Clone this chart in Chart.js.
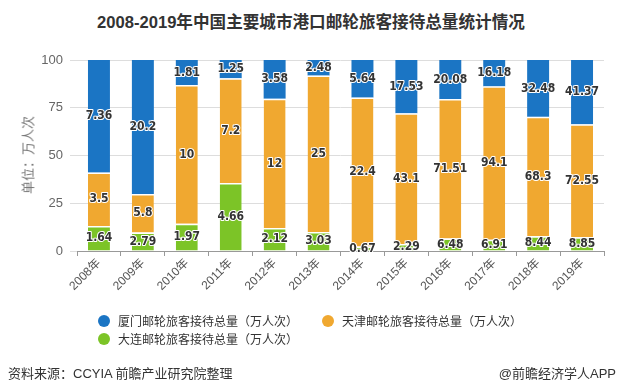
<!DOCTYPE html>
<html>
<head>
<meta charset="utf-8">
<script src="https://cdn.jsdelivr.net/npm/chart.js@4"></script>
<style>
    body { margin: 0; background: #fff; font-family: "Liberation Sans", "Noto Sans CJK SC", sans-serif; }
    #wrap { position: relative; width: 619px; height: 392px; overflow: hidden; }
    #chart { position: absolute; left: 0; top: 0; }
    .title { position: absolute; left: 97px; top: 9px; font-size: 16.6px; font-weight: bold; color: #333; white-space: nowrap; }
    .ytitle { position: absolute; left: 27px; top: 155px; font-size: 13px; color: #777; white-space: nowrap;
              transform: translate(-50%, -50%) rotate(-90deg); font-family: "Noto Sans CJK SC", sans-serif; }
    .legend-item { position: absolute; font-size: 12px; color: #333; white-space: nowrap; font-family: "Noto Sans CJK SC", sans-serif; }
    .legend-item span.dot { position: absolute; left: -20px; top: 3px; width: 12px; height: 12px; border-radius: 50%; }
    .source { position: absolute; font-size: 13px; color: #333; white-space: nowrap; }
</style>
</head>
<body>
<div id="wrap">
    <div class="title">2008-2019年中国主要城市港口邮轮旅客接待总量统计情况</div>
    <canvas id="chart" width="619" height="392"></canvas>
    <div class="ytitle">单位：万人次</div>
    <div class="legend-item" style="left:118px; top:312px;"><span class="dot" style="background:#1B75C4"></span>厦门邮轮旅客接待总量（万人次）</div>
    <div class="legend-item" style="left:342px; top:312px;"><span class="dot" style="background:#F0A830"></span>天津邮轮旅客接待总量（万人次）</div>
    <div class="legend-item" style="left:118px; top:330px;"><span class="dot" style="background:#7CC427"></span>大连邮轮旅客接待总量（万人次）</div>
    <div class="source" style="left:8px; top:363px;">资料来源：CCYIA 前瞻产业研究院整理</div>
    <div class="source" style="right:3px; top:363px;">@前瞻经济学人APP</div>
</div>
<script>
// 年份
const years = ['2008年', '2009年', '2010年', '2011年', '2012年', '2013年', '2014年', '2015年', '2016年', '2017年', '2018年', '2019年'];
// 各城市接待量（万人次）
const dalian = [1.64, 2.79, 1.97, 4.66, 2.12, 3.03, 0.67, 2.29, 6.48, 6.91, 8.44, 8.85];
const tianjin = [3.5, 5.8, 10, 7.2, 12, 25, 22.4, 43.1, 71.51, 94.1, 68.3, 72.55];
const xiamen = [7.36, 20.2, 1.81, 1.25, 3.58, 2.48, 5.64, 17.53, 20.08, 16.18, 32.48, 41.37];
const yTicks = [0, 25, 50, 75, 100];

const totals = years.map((y, i) => dalian[i] + tianjin[i] + xiamen[i]);
const toPct = arr => arr.map((v, i) => v / totals[i] * 100);

// draw raw values in the middle of each segment
const valueLabels = {
    id: 'valueLabels',
    afterDatasetsDraw(chart) {
        const ctx = chart.ctx;
        ctx.save();
        ctx.font = 'bold 12px "DejaVu Sans Condensed", "DejaVu Sans", sans-serif';
        ctx.textAlign = 'center';
        ctx.textBaseline = 'middle';
        ctx.lineJoin = 'round';
        chart.data.datasets.forEach((ds, di) => {
            const meta = chart.getDatasetMeta(di);
            meta.data.forEach((bar, i) => {
                const y = (bar.y + bar.base) / 2;
                const txt = String(ds.values[i]);
                ctx.lineWidth = 2;
                ctx.strokeStyle = '#fff';
                ctx.strokeText(txt, bar.x, y);
                ctx.fillStyle = '#333';
                ctx.fillText(txt, bar.x, y);
            });
        });
        ctx.restore();
    }
};

const ctx = document.getElementById('chart').getContext('2d');
const chart = new Chart(ctx, {
    type: 'bar',
    data: {
        labels: years,
        datasets: [
            { label: '大连', values: dalian, data: toPct(dalian), backgroundColor: '#7CC427', borderColor: '#fff', borderWidth: { top: 1.5 }, borderSkipped: false },
            { label: '天津', values: tianjin, data: toPct(tianjin), backgroundColor: '#F0A830', borderColor: '#fff', borderWidth: { top: 1.5 }, borderSkipped: false },
            { label: '厦门', values: xiamen, data: toPct(xiamen), backgroundColor: '#1B75C4', borderWidth: 0 }
        ]
    },
    options: {
        responsive: false,
        animation: false,
        events: [],
        layout: { padding: { left: 0, right: 15, top: 60, bottom: 81 } },
        plugins: { legend: { display: false }, tooltip: { enabled: false } },
        datasets: { bar: { barPercentage: 0.5, categoryPercentage: 1 } },
        scales: {
            x: {
                stacked: true,
                grid: { drawOnChartArea: false, drawTicks: true, tickLength: 5, color: '#999' },
                border: { color: '#999' },
                ticks: { minRotation: 45, maxRotation: 45, color: '#555', font: { size: 12, family: '"Liberation Sans", "Noto Sans CJK SC"' }, padding: 0 },
                afterFit: s => { s.height = 60; }
            },
            y: {
                stacked: true,
                min: 0,
                max: 100,
                afterBuildTicks: s => { s.ticks = yTicks.map(v => ({ value: v })); },
                grid: { color: '#ddd', tickLength: 7 },
                border: { display: false },
                ticks: { color: '#666', font: { size: 13, family: '"Liberation Sans"' }, padding: 7 },
                afterFit: s => { s.width = 77; }
            }
        }
    },
    plugins: [valueLabels]
});
</script>
</body>
</html>
